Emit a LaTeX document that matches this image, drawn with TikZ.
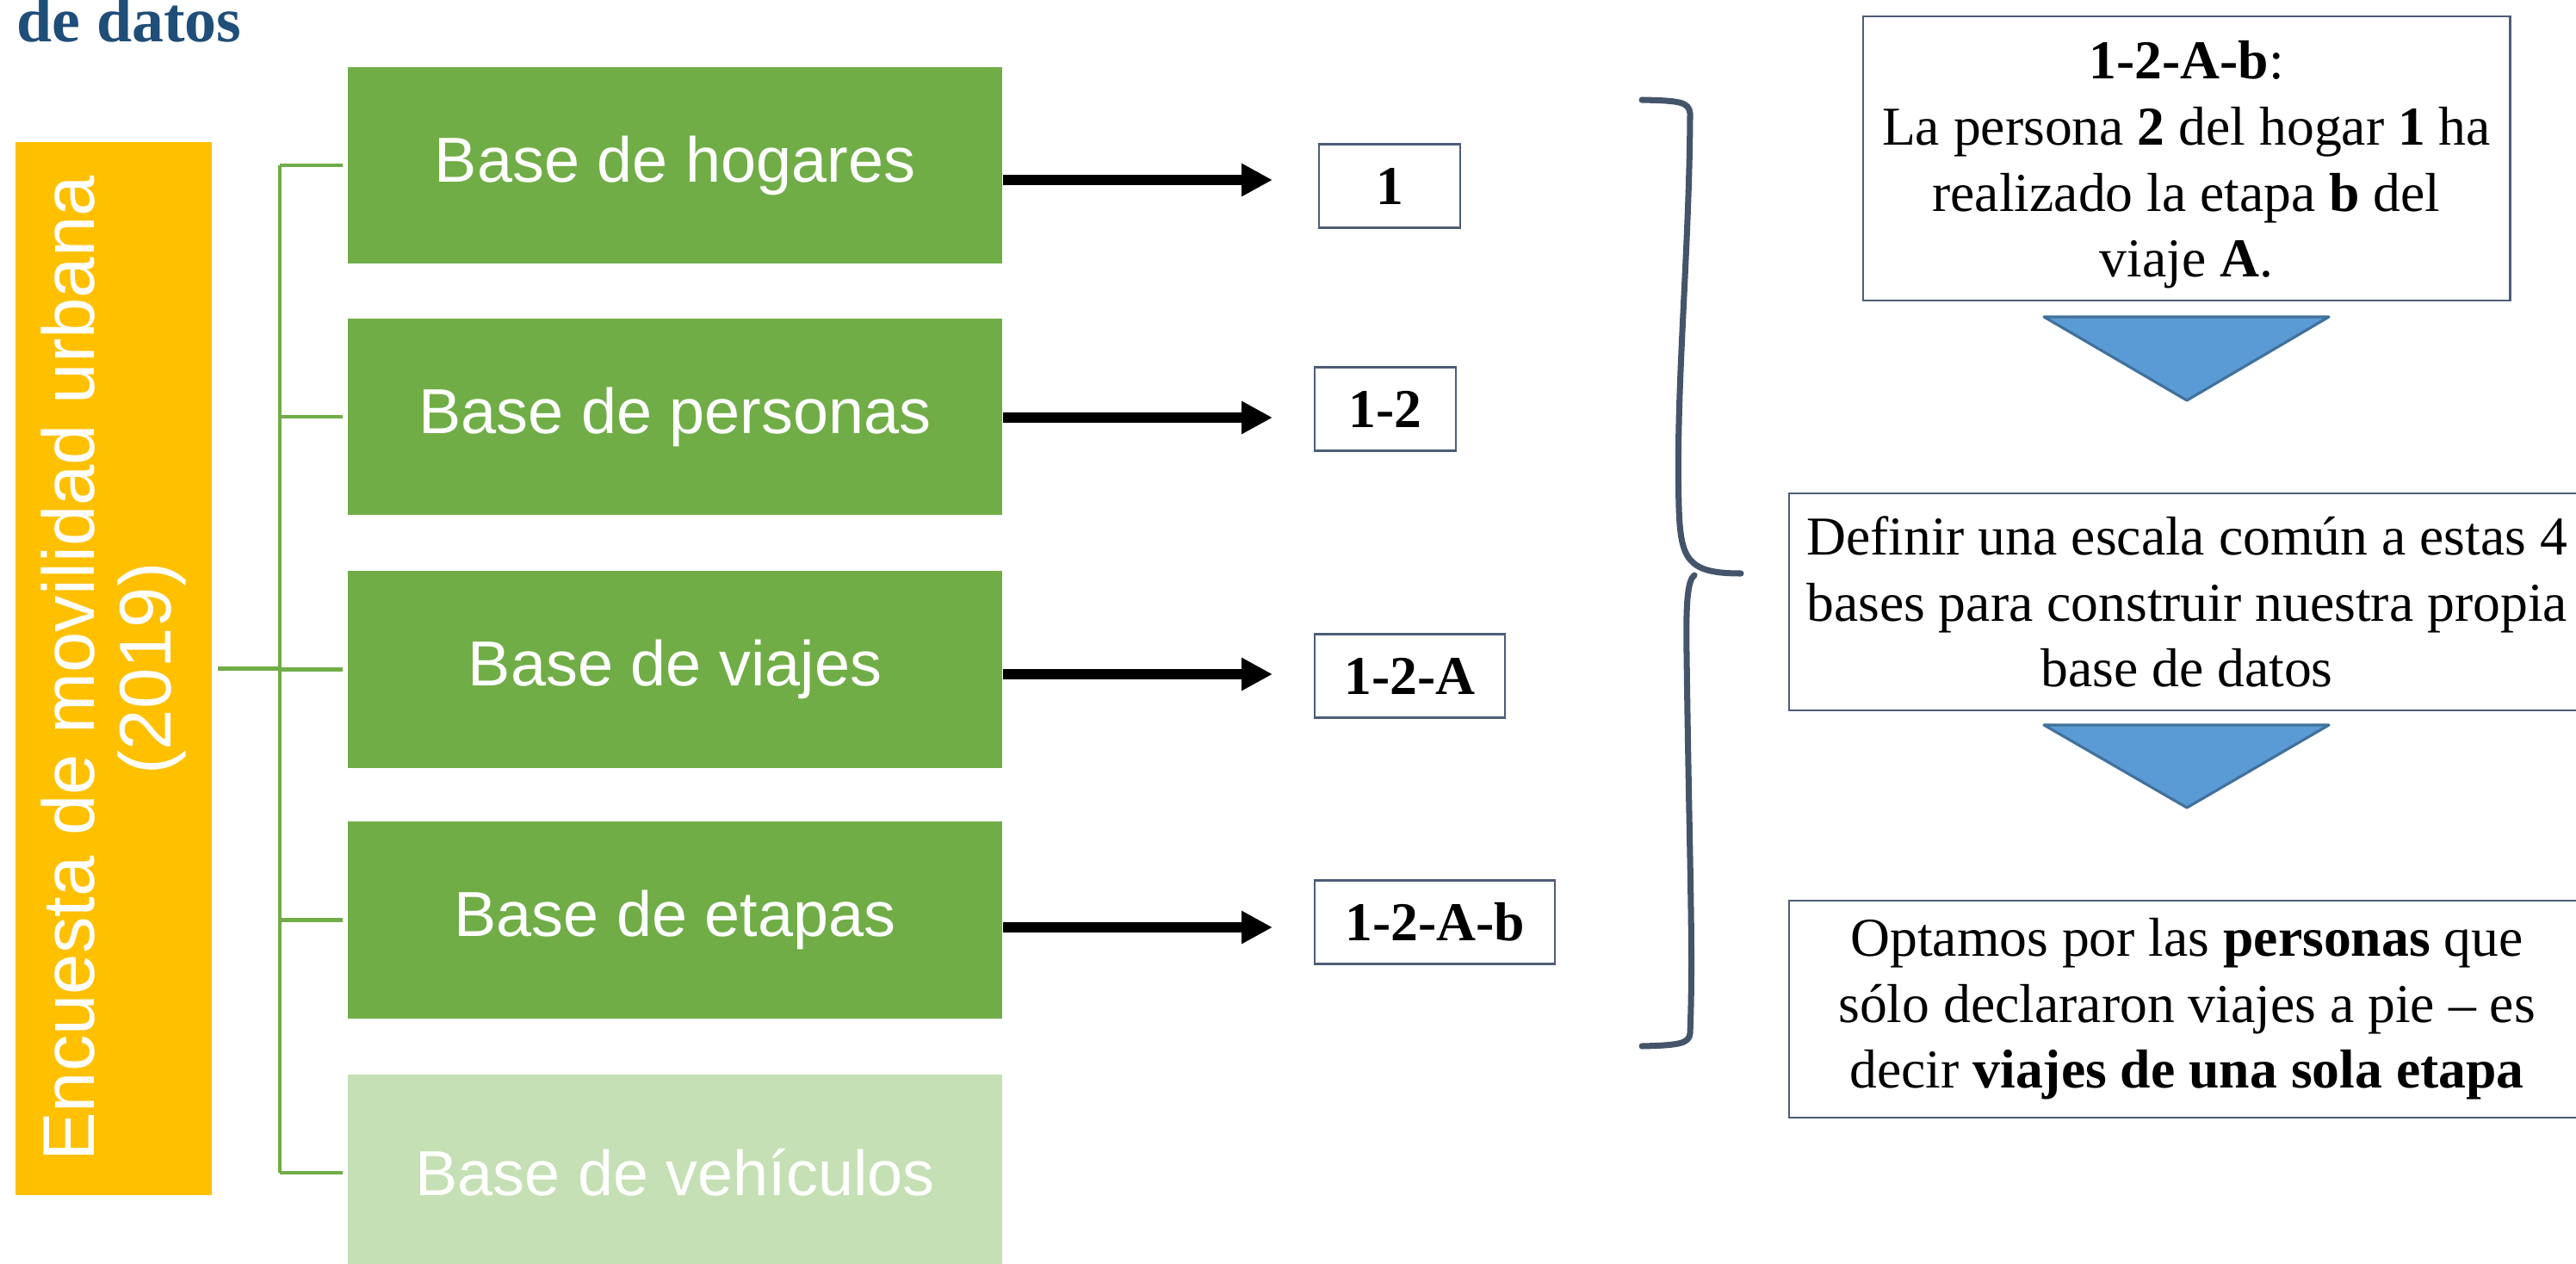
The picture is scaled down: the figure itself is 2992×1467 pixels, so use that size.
\documentclass[tikz,border=0pt]{standalone}
\usepackage{fontspec}
\setmainfont{Liberation Serif}
\newfontfamily\arialf{Liberation Sans}
\usetikzlibrary{arrows.meta}
\definecolor{gr}{HTML}{70AD47}
\definecolor{grl}{HTML}{C5E0B4}
\definecolor{yellowbg}{HTML}{FFC000}
\definecolor{bord}{HTML}{4E5D78}
\definecolor{bracecol}{HTML}{44546A}
\definecolor{trifill}{HTML}{5B9BD5}
\definecolor{triline}{HTML}{41719C}
\definecolor{titleblue}{HTML}{1F4E79}
\begin{document}
\begin{tikzpicture}[x=0.01cm,y=-0.01cm,
  gbox/.style={fill=gr, minimum width=7.6cm, minimum height=2.28cm, inner sep=0pt, text=white, font=\arialf\fontsize{21}{25}\selectfont},
  idbox/.style={draw=bord, line width=0.6pt, minimum height=0.97cm, inner sep=0pt, font=\bfseries\fontsize{18.1}{21.8}\selectfont},
  bigbox/.style={draw=bord, line width=0.7pt, align=center, inner sep=0pt, font=\fontsize{18.1}{21.8}\selectfont},
  tree/.style={draw=gr, line width=1.4pt},
  bigarrow/.style={line width=0.12cm, -{Triangle[length=0.36cm,width=0.36cm]}},
  tri/.style={fill=trifill, draw=triline, line width=0.9pt, line join=round}]
\useasboundingbox (0,0) rectangle (2992,1467);

% title (second line of a heading, cut at the top as in the reference)
\node[anchor=base west, inner sep=0pt, text=titleblue, font=\bfseries\fontsize{21}{25}\selectfont] (title) at (19,49) {de datos};

% yellow box
\node[fill=yellowbg, minimum width=2.28cm, minimum height=12.23cm, inner sep=0pt] (yel) at (132,776.5) {};
\node[rotate=90, align=center, text=white, inner sep=0pt, font=\arialf\fontsize{24.2}{25.3}\selectfont] (yeltext) at (yel.center) {Encuesta de movilidad urbana\\(2019)};

% green boxes
\node[gbox] (g1) at (784,192) {Base de hogares};
\node[gbox] (g2) at (784,484) {Base de personas};
\node[gbox] (g3) at (784,777.5) {Base de viajes};
\node[gbox] (g4) at (784,1068.5) {Base de etapas};
\node[gbox, fill=grl] (g5) at (784,1362) {Base de vehículos};

% tree
\coordinate (trunk) at (325,776.5);
\draw[tree] ([xshift=0.06cm]yel.east) -- (trunk);
\draw[tree] (trunk |- g1.west) -- (trunk |- g5.west);
\foreach \g in {g1,g2,g3,g4,g5}
  \draw[tree, shorten >=0.05cm] (trunk |- \g.west) -- (\g.west);

% id boxes
\node[idbox, minimum width=1.64cm] (i1) at (1614,216) {1};
\node[idbox, minimum width=1.64cm] (i2) at (1609,475) {1-2};
\node[idbox, minimum width=2.21cm] (i3) at (1637.5,785) {1-2-A};
\node[idbox, minimum width=2.79cm] (i4) at (1666.5,1071) {1-2-A-b};

% arrows
\coordinate (t1) at (1478,209);
\coordinate (t2) at (1478,485);
\coordinate (t3) at (1478,783);
\coordinate (t4) at (1478,1077);
\draw[bigarrow] (g1.east |- t1) -- (t1);
\draw[bigarrow] (g2.east |- t2) -- (t2);
\draw[bigarrow] (g3.east |- t3) -- (t3);
\draw[bigarrow] (g4.east |- t4) -- (t4);

% brace
\draw[bracecol, line width=2pt, line cap=round, line join=round]
  (1907,116) .. controls (1950,117) and (1962,118) .. (1963,132)
  .. controls (1962,300) and (1946,450) .. (1950,590)
  .. controls (1952,650) and (1960,666) .. (2022,666);
\draw[bracecol, line width=2pt, line cap=round, line join=round]
  (1968,668) .. controls (1960,674) and (1958,700) .. (1959,760)
  .. controls (1962,1000) and (1967,1100) .. (1963,1200)
  .. controls (1962,1212) and (1950,1214) .. (1907,1215);

% right column
\node[bigbox, minimum width=7.51cm, minimum height=3.30cm] (ba) at (2539.5,184)
  {\rule{0pt}{0.59cm}\textbf{1-2-A-b}:\\La persona \textbf{2} del hogar \textbf{1} ha\\realizado la etapa \textbf{b} del\\viaje \textbf{A}.};
\node[bigbox, minimum width=9.24cm, minimum height=2.52cm] (bb) at (2540,699)
  {Definir una escala común a estas 4\\bases para construir nuestra propia\\base de datos};
\node[bigbox, minimum width=9.24cm, minimum height=2.52cm] (bc) at (2540,1172)
  {Optamos por las \textbf{personas} que\\sólo declararon viajes a pie – es\\decir \textbf{viajes de una sola etapa}};

\draw[tri] (2374,368) -- (2705,368) -- (2540,465) -- cycle;
\draw[tri] (2374,842) -- (2705,842) -- (2540,938) -- cycle;
\end{tikzpicture}
\end{document}
